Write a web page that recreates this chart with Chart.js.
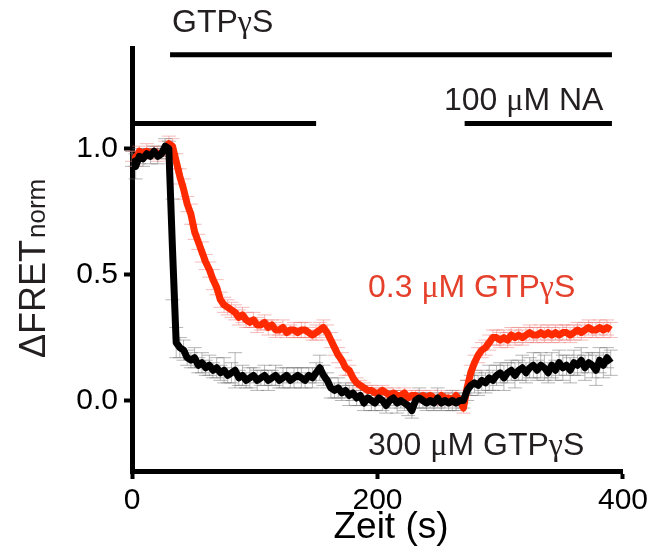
<!DOCTYPE html>
<html>
<head>
<meta charset="utf-8">
<script src="https://cdn.jsdelivr.net/npm/chart.js@4"></script>
<style>
  html, body { margin: 0; padding: 0; background: #fff; }
</style>
</head>
<body>
<canvas id="fretChart" width="652" height="552"></canvas>
<script>
// time axis (s)
const times = [
  0, 3, 6, 9, 12, 15, 18, 21, 24, 27,
  30, 33, 36, 39, 42, 45, 48, 51, 54, 57,
  60, 63, 66, 69, 72, 75, 78, 81, 84, 87,
  90, 93, 96, 99, 102, 105, 108, 111, 114, 117,
  120, 123, 126, 129, 132, 135, 138, 141, 144, 147,
  150, 153, 156, 159, 162, 165, 168, 171, 174, 177,
  180, 183, 186, 189, 192, 195, 198, 201, 204, 207,
  210, 213, 216, 219, 222, 225, 228, 231, 234, 237,
  240, 243, 246, 249, 252, 255, 258, 261, 264, 267,
  270, 273, 276, 279, 282, 285, 288, 291, 294, 297,
  300, 303, 306, 309, 312, 315, 318, 321, 324, 327,
  330, 333, 336, 339, 342, 345, 348, 351, 354, 357,
  360, 363, 366, 369, 372, 375, 378, 381, 384, 387,
  390
];

// 0.3 uM GTPgS (red)
const lowGtp = [
  0.97, 0.96, 0.99, 0.98, 0.99, 0.98, 0.99, 0.98, 0.98, 1.00,
  1.02, 1.01, 0.95, 0.89, 0.84, 0.78, 0.74, 0.67, 0.63, 0.59,
  0.55, 0.52, 0.48, 0.45, 0.40, 0.38, 0.37, 0.36, 0.35, 0.33,
  0.34, 0.32, 0.31, 0.32, 0.30, 0.30, 0.31, 0.29, 0.30, 0.28,
  0.28, 0.29, 0.27, 0.28, 0.28, 0.27, 0.28, 0.28, 0.27, 0.26,
  0.27, 0.28, 0.29, 0.27, 0.24, 0.21, 0.18, 0.16, 0.13, 0.12,
  0.09, 0.07, 0.06, 0.05, 0.04, 0.04, 0.03, 0.03, 0.04, 0.03,
  0.02, 0.03, 0.02, 0.02, 0.03, 0.01, 0.02, 0.02, 0.01, 0.02,
  0.01, 0.02, 0.01, 0.00, 0.02, 0.01, 0.01, 0.00, 0.02, 0.00,
  -0.03, 0.05, 0.11, 0.15, 0.18, 0.20, 0.21, 0.23, 0.25, 0.25,
  0.24, 0.25, 0.24, 0.26, 0.25, 0.26, 0.25, 0.26, 0.27, 0.26,
  0.26, 0.27, 0.26, 0.27, 0.26, 0.27, 0.26, 0.27, 0.27, 0.26,
  0.27, 0.28, 0.27, 0.28, 0.29, 0.28, 0.28, 0.29, 0.28, 0.29,
  0.28
];
const lowGtpErr = [
  0.02, 0.03, 0.02, 0.02, 0.03, 0.02, 0.02, 0.03, 0.02, 0.03,
  0.03, 0.03, 0.03, 0.03, 0.04, 0.03, 0.04, 0.03, 0.03, 0.04,
  0.03, 0.03, 0.04, 0.03, 0.03, 0.03, 0.03, 0.03, 0.03, 0.03,
  0.03, 0.03, 0.02, 0.03, 0.03, 0.02, 0.03, 0.03, 0.02, 0.03,
  0.02, 0.03, 0.02, 0.02, 0.03, 0.02, 0.03, 0.03, 0.02, 0.02,
  0.03, 0.03, 0.03, 0.03, 0.03, 0.03, 0.03, 0.03, 0.03, 0.02,
  0.02, 0.02, 0.02, 0.02, 0.02, 0.02, 0.02, 0.02, 0.02, 0.02,
  0.02, 0.02, 0.02, 0.02, 0.02, 0.02, 0.02, 0.02, 0.02, 0.02,
  0.02, 0.02, 0.02, 0.02, 0.02, 0.02, 0.02, 0.02, 0.02, 0.02,
  0.02, 0.03, 0.03, 0.03, 0.03, 0.03, 0.03, 0.03, 0.03, 0.03,
  0.03, 0.03, 0.03, 0.03, 0.03, 0.03, 0.03, 0.03, 0.03, 0.03,
  0.03, 0.03, 0.03, 0.03, 0.03, 0.03, 0.03, 0.03, 0.03, 0.03,
  0.03, 0.03, 0.03, 0.03, 0.03, 0.03, 0.03, 0.03, 0.03, 0.03,
  0.03
];

// 300 uM GTPgS (black)
const highGtp = [
  0.96, 0.93, 0.97, 0.96, 0.98, 0.97, 0.99, 0.97, 0.98, 1.01,
  1.00, 0.60, 0.23, 0.21, 0.20, 0.17, 0.16, 0.17, 0.14, 0.15,
  0.13, 0.14, 0.12, 0.13, 0.11, 0.12, 0.10, 0.11, 0.12, 0.09,
  0.10, 0.08, 0.09, 0.10, 0.08, 0.09, 0.10, 0.08, 0.09, 0.10,
  0.08, 0.09, 0.10, 0.08, 0.09, 0.10, 0.09, 0.08, 0.10, 0.09,
  0.11, 0.13, 0.10, 0.08, 0.05, 0.04, 0.05, 0.03, 0.04, 0.02,
  0.03, 0.01, 0.02, -0.01, 0.01, 0.00, -0.01, 0.01, 0.00, -0.02,
  0.00, 0.01, -0.01, 0.00, -0.01, -0.02, -0.04, 0.00, 0.01, 0.00,
  -0.01, 0.00, -0.01, 0.01, -0.01, 0.00, -0.01, 0.00, -0.01, 0.00,
  0.00, 0.04, 0.06, 0.07, 0.06, 0.08, 0.07, 0.09, 0.08, 0.10,
  0.11, 0.09, 0.11, 0.12, 0.10, 0.12, 0.13, 0.11, 0.13, 0.14,
  0.12, 0.14, 0.13, 0.11, 0.14, 0.12, 0.15, 0.13, 0.14, 0.12,
  0.15, 0.14, 0.16, 0.13, 0.15, 0.14, 0.12, 0.16, 0.14, 0.17,
  0.15
];
const highGtpErr = [
  0.03, 0.05, 0.03, 0.03, 0.02, 0.03, 0.02, 0.03, 0.02, 0.03,
  0.03, 0.20, 0.06, 0.04, 0.04, 0.03, 0.03, 0.04, 0.03, 0.04,
  0.03, 0.04, 0.03, 0.04, 0.03, 0.05, 0.03, 0.04, 0.07, 0.03,
  0.04, 0.03, 0.04, 0.03, 0.04, 0.03, 0.04, 0.04, 0.03, 0.04,
  0.03, 0.04, 0.03, 0.03, 0.04, 0.03, 0.04, 0.03, 0.03, 0.04,
  0.04, 0.05, 0.04, 0.03, 0.04, 0.03, 0.04, 0.03, 0.03, 0.04,
  0.03, 0.03, 0.04, 0.03, 0.03, 0.04, 0.03, 0.03, 0.04, 0.03,
  0.03, 0.03, 0.04, 0.03, 0.03, 0.04, 0.03, 0.03, 0.04, 0.03,
  0.03, 0.03, 0.03, 0.04, 0.03, 0.03, 0.03, 0.04, 0.03, 0.03,
  0.03, 0.04, 0.04, 0.04, 0.04, 0.04, 0.04, 0.05, 0.04, 0.04,
  0.04, 0.05, 0.04, 0.04, 0.05, 0.04, 0.05, 0.04, 0.04, 0.05,
  0.04, 0.05, 0.05, 0.04, 0.05, 0.04, 0.05, 0.05, 0.04, 0.05,
  0.05, 0.04, 0.05, 0.05, 0.04, 0.05, 0.06, 0.05, 0.05, 0.04,
  0.05
];

const xTicks = [0, 200, 400];
const yTicks = [0, 0.5, 1.0];

// application bars: GTPgS (top), perfusion before / NA
const barStart = [31, 0, 271];
const barEnd = [391, 150, 391];
const barLevel = [1.373, 1.1, 1.1];

const RED = '#ff2a00';
const RED_TEXT = '#e4402b';
const DARK = '#231f20';
const SANS = '"Liberation Sans", Arial, sans-serif';
const SERIF = '"Liberation Serif", "Times New Roman", serif';

const pts = (vals) => times.map((t, i) => ({ x: t, y: vals[i] }));

// error bars under the traces
const errorBars = {
  id: 'errorBars',
  beforeDatasetsDraw(chart) {
    const { ctx, scales: { x, y } } = chart;
    const sets = [
      [lowGtp, lowGtpErr, 'rgba(240,120,120,0.5)'],
      [highGtp, highGtpErr, 'rgba(110,110,110,0.5)']
    ];
    ctx.save();
    ctx.lineWidth = 1;
    sets.forEach(([vals, errs, col]) => {
      ctx.strokeStyle = col;
      ctx.beginPath();
      times.forEach((t, i) => {
        const px = x.getPixelForValue(t);
        const top = y.getPixelForValue(vals[i] + errs[i]);
        const bot = y.getPixelForValue(vals[i] - errs[i]);
        ctx.moveTo(px, top); ctx.lineTo(px, bot);
        ctx.moveTo(px - 7, top); ctx.lineTo(px + 7, top);
        ctx.moveTo(px - 7, bot); ctx.lineTo(px + 7, bot);
      });
      ctx.stroke();
    });
    ctx.restore();
  }
};

// text with sans parts and serif greek letters
function richText(ctx, parts, x, y, size, color) {
  ctx.fillStyle = color;
  ctx.textAlign = 'left';
  ctx.textBaseline = 'alphabetic';
  parts.forEach(([s, serif]) => {
    ctx.font = size + 'px ' + (serif ? SERIF : SANS);
    ctx.fillText(s, x, y);
    x += ctx.measureText(s).width;
  });
}

const labels = {
  id: 'labels',
  afterDraw(chart) {
    const ctx = chart.ctx;
    ctx.save();
    richText(ctx, [['GTP'], ['γ', 1], ['S']], 172, 32, 32, DARK);
    richText(ctx, [['100 '], ['μ', 1], ['M NA']], 444, 110, 32, DARK);
    richText(ctx, [['0.3 '], ['μ', 1], ['M GTP'], ['γ', 1], ['S']], 368, 297, 32, RED_TEXT);
    richText(ctx, [['300 '], ['μ', 1], ['M GTP'], ['γ', 1], ['S']], 368, 455, 32, DARK);

    // x title
    ctx.fillStyle = '#000';
    ctx.font = '37px ' + SANS;
    ctx.textAlign = 'center';
    ctx.fillText('Zeit (s)', 391, 538);

    // y title with subscript
    ctx.translate(45, 358);
    ctx.rotate(-Math.PI / 2);
    ctx.textAlign = 'left';
    ctx.font = '36px ' + SANS;
    ctx.fillStyle = DARK;
    ctx.fillText('ΔFRET', 0, 0);
    const w = ctx.measureText('ΔFRET').width;
    ctx.font = '26px ' + SANS;
    ctx.fillText('norm', w + 2, 0);
    ctx.restore();
  }
};

const axisStyle = {
  grid: { display: true, drawOnChartArea: false, drawTicks: true, tickLength: 8, tickWidth: 4, tickColor: '#000' },
  border: { display: true, width: 5, color: '#000' },
};

new Chart(document.getElementById('fretChart'), {
  type: 'line',
  data: {
    datasets: [
      { data: pts(highGtp), borderColor: '#000', borderWidth: 7 },
      { data: pts(lowGtp), borderColor: RED, borderWidth: 7 },
      ...barStart.map((s, i) => ({
        data: [{ x: s, y: barLevel[i] }, { x: barEnd[i], y: barLevel[i] }],
        borderColor: '#000', borderWidth: 5, borderCapStyle: 'butt'
      }))
    ]
  },
  options: {
    responsive: false,
    animation: false,
    layout: { padding: { top: 48, right: 28, left: 0, bottom: 0 } },
    elements: {
      point: { radius: 0 },
      line: { tension: 0, borderJoinStyle: 'round', fill: false }
    },
    plugins: { legend: { display: false }, tooltip: { enabled: false } },
    scales: {
      x: {
        type: 'linear', min: 0, max: 400,
        ...axisStyle,
        afterBuildTicks: (s) => { s.ticks = xTicks.map(v => ({ value: v })); },
        afterFit: (s) => { s.height = 81; },
        ticks: { color: '#000', font: { size: 30, family: SANS }, padding: 4, maxRotation: 0 }
      },
      y: {
        type: 'linear', min: -0.28, max: 1.4,
        ...axisStyle,
        afterBuildTicks: (s) => { s.ticks = yTicks.map(v => ({ value: v })); },
        afterFit: (s) => { s.width = 132; },
        ticks: { color: '#000', font: { size: 30, family: SANS }, padding: 6, callback: v => v.toFixed(1) }
      }
    }
  },
  plugins: [errorBars, labels]
});
</script>
</body>
</html>
